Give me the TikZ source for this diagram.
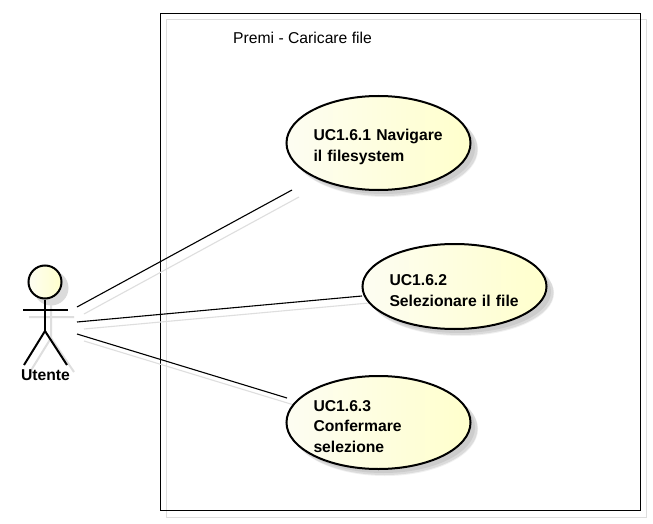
\documentclass[tikz,border=0pt]{standalone}
\usepackage{fontspec}
\setmainfont{Liberation Sans}
\usetikzlibrary{shapes.geometric}
\definecolor{ucyellow}{HTML}{FFFFCC}
\definecolor{ucpale}{HTML}{FDFDF2}
\definecolor{shadowgrey}{HTML}{DEDEDE}
\newcommand{\firstline}{\rule{0pt}{19pt}}
\tikzset{
  usecase/.style={ellipse,draw=black,line width=2pt,minimum width=184pt,inner sep=0pt,
    left color=ucpale,right color=ucyellow,text width=130pt,align=left,
    font=\fontsize{15.7}{20.8}\selectfont\bfseries},
  ucshadow/.style={ellipse,fill=#1,minimum width=186pt,inner sep=0pt},
  frameline/.style={draw=black,line width=1pt},
  frameshadow/.style={draw=shadowgrey,line width=1pt},
  link/.style={draw=black,line width=1.1pt},
  linkshadow/.style={draw=shadowgrey,line width=1.1pt},
  actorline/.style={draw=black,line width=2pt},
  actorshadow/.style={draw=shadowgrey,line width=2pt},
  head/.style={circle,draw=black,line width=2pt,minimum size=33pt,inner sep=0pt,
    left color=ucpale,right color=ucyellow}
}
\begin{document}
\begin{tikzpicture}[x=1pt,y=-1pt]
\useasboundingbox[fill=white] (0,0) rectangle (653,524);
% frame
\draw[frameshadow] (166.5,20) rectangle (646.5,517);
\draw[frameline] (160.5,13.5) rectangle (640,510);
\node[anchor=base west,inner sep=0pt,font=\fontsize{15.7}{18}\selectfont] (title) at (233,44) {Premi - Caricare file};
% use-case shadows
\foreach \cx/\cy/\h in {378.5/143/94,454.5/286.5/85,378.5/422.5/93}{
  \node[ucshadow=black!6,minimum height=\h pt+1pt] at (\cx+6.5,\cy+6.5) {};
  \node[ucshadow=black!14,minimum height=\h pt] at (\cx+6,\cy+6) {};
  \node[ucshadow=black!20,minimum height=\h pt-2pt,minimum width=183pt] at (\cx+5,\cy+5) {};
}
% link ends
\coordinate (a1) at (77,307); \coordinate (e1) at (292,190);
\coordinate (a2) at (77,322); \coordinate (e2) at (362,296);
\coordinate (a3) at (77,334); \coordinate (e3) at (287,398);
\draw[linkshadow] ([shift={(7,7)}]a1) -- ([shift={(7,7)}]e1);
\draw[linkshadow] ([shift={(7,7)}]a2) -- ([shift={(7,7)}]e2);
\draw[linkshadow] ([shift={(7,7)}]a3) -- ([shift={(7,7)}]e3);
\draw[link] (a1) -- (e1);
\draw[link] (a2) -- (e2);
\draw[link] (a3) -- (e3);
% use cases
\node[usecase,minimum height=94pt] (uc1) at (378.5,143) {\firstline UC1.6.1 Navigare\\il filesystem};
\node[usecase,minimum height=85pt] (uc2) at (454.5,286.5) {\firstline UC1.6.2\\Selezionare il file};
\node[usecase,minimum height=93pt] (uc3) at (378.5,422.5) {\firstline UC1.6.3\\Confermare\\selezione};
% actor shadow
\fill[black!14] (51,288) circle (17.5pt);
\draw[actorshadow] (51,305) -- (51,338) (29,317) -- (74,317) (30,372) -- (51,338) -- (74,372);
% actor
\node[head] (actor) at (45,282) {};
\coordinate (neck) at (actor.south);
\coordinate (hip) at (45,331);
\coordinate (armL) at (23,310); \coordinate (armR) at (68,310);
\coordinate (footL) at (24,365); \coordinate (footR) at (67,365);
\draw[actorline] (neck) -- (hip);
\draw[actorline] (armL) -- (armR);
\draw[actorline] (footL) -- (hip) -- (footR);
\node[anchor=base,inner sep=0pt,font=\fontsize{15.7}{18}\selectfont\bfseries] (actorlabel) at (45.5,380.5) {Utente};
\end{tikzpicture}
\end{document}
